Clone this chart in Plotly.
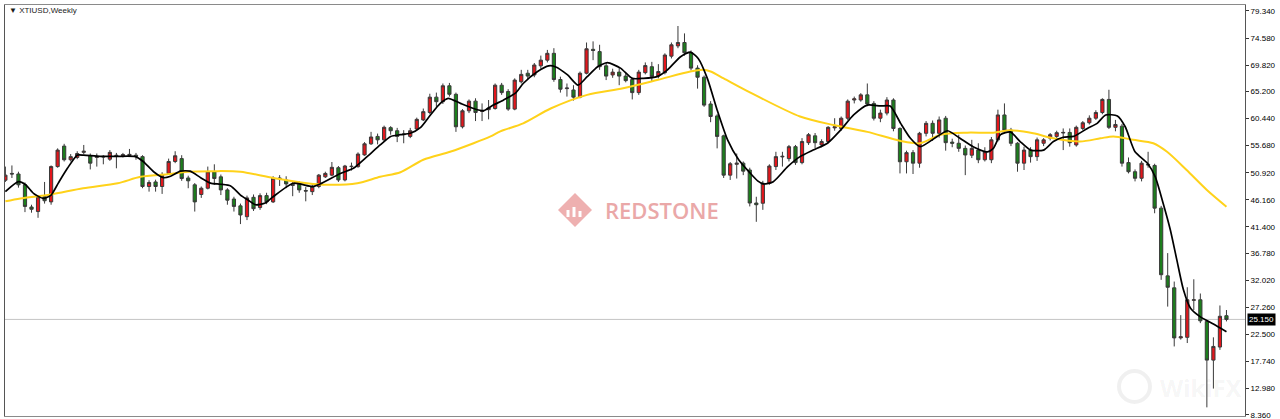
import plotly.graph_objects as go

# ---------------- data ----------------
opens = [49.6, 50.8, 50.7, 48.8, 44.9, 44.1, 46.7, 45.8, 52.0, 55.6,
         53.2, 53.6, 54.5, 53.9, 53.6, 53.8, 53.3, 54.0, 53.9, 53.95,
         54.0, 53.75, 48.5, 49.3, 48.5, 50.8, 52.9, 53.4, 50.0, 48.8,
         47.1, 48.2, 51.1, 50.2, 47.9, 46.3, 45.1, 43.2, 46.6, 44.8,
         46.9, 45.8, 50.0, 49.65, 48.9, 48.9, 47.8, 47.6, 48.5, 50.2,
         50.5, 51.8, 49.65, 52.0, 51.99, 54.05, 56.0, 57.3, 56.7, 58.84,
         58.3, 57.6, 57.3, 58.6, 60.2, 61.5, 64.2, 63.4, 66.2, 64.7,
         59.0, 61.8, 63.5, 61.7, 62.0, 62.2, 66.3, 65.2, 62.1, 66.9,
         68.4, 68.1, 69.7, 70.7, 71.9, 67.3, 65.7, 65.46, 64.2, 68.4,
         72.6, 72.2, 69.7, 68.1, 68.6, 67.9, 67.3, 65.0, 68.5, 69.55,
         67.9, 68.5, 71.4, 73.2, 73.8, 72.0, 69.3, 67.7, 63.0, 60.9,
         57.4, 50.5, 52.4, 52.6, 51.4, 45.6, 45.56, 49.07, 52.0, 53.7,
         53.4, 55.5, 52.7, 56.2, 57.4, 55.8, 56.4, 58.8, 58.7, 60.5,
         63.7, 63.7, 64.6, 63.1, 60.5, 61.4, 63.7, 58.7, 52.85, 54.45,
         52.6, 57.85, 59.6, 57.85, 60.5, 56.3, 56.1, 55.2, 54.0, 54.9,
         53.2, 53.2, 56.7, 61.07, 58.4, 56.1, 52.6, 54.9, 53.75, 56.1,
         57.0, 57.3, 57.9, 58.0, 55.8, 58.7, 59.7, 60.5, 61.5, 63.8,
         58.9, 59.1, 52.7, 51.1, 49.95, 52.4, 52.2, 44.7, 32.8, 30.7,
         21.9, 22.0, 28.5, 28.6, 24.8, 18.0, 20.3, 25.8]
highs = [52.0, 52.2, 51.1, 49.2, 45.3, 47.0, 49.3, 52.2, 55.2, 56.0,
         54.2, 54.7, 55.8, 54.3, 54.3, 54.0, 54.9, 54.4, 54.4, 55.1,
         54.4, 54.0, 49.6, 49.7, 51.0, 53.4, 54.7, 54.0, 50.4, 49.1,
         48.5, 52.0, 52.4, 50.6, 48.2, 46.7, 45.5, 46.9, 47.1, 47.3,
         47.4, 50.3, 50.5, 50.3, 49.4, 49.4, 48.4, 49.0, 50.7, 51.1,
         52.8, 52.1, 52.3, 52.7, 54.5, 56.3, 58.1, 57.8, 59.2, 59.1,
         58.8, 58.4, 58.8, 60.6, 62.2, 64.8, 65.0, 66.6, 66.7, 65.0,
         62.1, 63.8, 64.0, 63.1, 63.7, 66.6, 66.7, 65.6, 67.5, 69.0,
         69.0, 70.2, 71.5, 72.5, 72.8, 67.8, 66.6, 66.3, 68.7, 73.8,
         74.0, 73.4, 70.2, 69.2, 69.3, 68.4, 67.6, 69.0, 70.3, 70.4,
         70.0, 71.9, 73.8, 76.7, 75.4, 72.4, 69.8, 68.0, 63.5, 61.2,
         57.6, 52.8, 54.3, 52.9, 51.8, 46.7, 49.5, 52.4, 54.6, 54.6,
         55.8, 55.8, 57.0, 57.9, 57.9, 56.8, 59.1, 60.5, 60.8, 63.8,
         64.3, 64.9, 66.6, 63.5, 62.0, 64.2, 64.0, 58.9, 54.8, 54.9,
         58.1, 60.0, 60.1, 60.8, 60.9, 56.9, 57.6, 55.7, 56.7, 56.1,
         55.4, 57.2, 62.0, 63.1, 58.8, 56.3, 55.5, 55.4, 57.1, 57.0,
         57.9, 58.3, 58.7, 58.7, 59.2, 60.0, 61.0, 61.9, 64.0, 65.5,
         60.2, 59.5, 53.6, 51.5, 53.0, 54.6, 52.5, 45.1, 36.8, 31.8,
         25.9, 30.8, 32.2, 29.7, 25.0, 22.0, 27.6, 26.8]
lows = [49.3, 50.0, 48.3, 44.0, 43.9, 43.0, 45.5, 45.3, 51.8, 52.9,
        52.9, 53.3, 54.2, 51.5, 52.0, 52.4, 53.0, 51.7, 53.6, 53.7,
        53.2, 48.2, 47.6, 47.6, 47.2, 50.6, 52.6, 49.5, 48.2, 44.1,
        46.5, 48.0, 48.8, 47.0, 45.3, 44.1, 41.9, 42.6, 44.2, 44.4,
        45.4, 45.6, 48.6, 48.2, 46.8, 47.4, 45.9, 47.0, 48.2, 50.0,
        50.3, 49.3, 49.4, 51.3, 51.8, 53.9, 55.8, 55.9, 56.4, 57.6,
        56.3, 56.1, 57.0, 58.4, 60.0, 61.2, 62.5, 63.0, 64.3, 58.1,
        58.7, 61.4, 60.0, 60.0, 60.3, 62.0, 64.6, 61.8, 61.9, 66.6,
        67.3, 67.7, 69.2, 70.3, 66.9, 65.0, 64.3, 63.6, 64.0, 68.2,
        70.7, 69.0, 67.2, 67.6, 66.3, 66.8, 63.8, 64.6, 68.2, 66.9,
        67.5, 68.2, 71.0, 72.8, 71.5, 68.9, 65.7, 62.5, 59.8, 55.2,
        50.0, 49.65, 49.9, 50.5, 45.0, 42.3, 44.4, 48.8, 51.4, 52.0,
        52.9, 52.3, 52.4, 55.8, 55.2, 55.4, 56.1, 58.3, 58.3, 60.2,
        63.1, 63.4, 62.6, 60.1, 59.8, 61.0, 58.2, 50.8, 50.8, 50.7,
        51.8, 57.3, 56.5, 57.1, 54.8, 55.4, 54.6, 50.5, 53.5, 52.6,
        52.9, 52.6, 56.4, 58.0, 55.6, 51.1, 51.4, 52.7, 53.0, 55.6,
        56.6, 56.9, 54.9, 55.5, 55.5, 58.4, 59.4, 60.2, 61.2, 58.6,
        58.2, 52.0, 50.8, 49.4, 49.4, 51.8, 43.8, 32.1, 27.4, 20.4,
        21.6, 21.0, 26.8, 24.5, 9.7, 13.0, 19.8, 24.8]
closes = [50.5, 50.7, 48.8, 45.0, 44.5, 46.7, 46.0, 52.0, 54.9, 53.2,
          53.75, 54.3, 54.7, 52.6, 53.8, 53.7, 54.5, 53.9, 54.1, 54.15,
          53.8, 48.5, 49.2, 48.5, 50.5, 52.9, 53.9, 49.9, 49.5, 45.8,
          48.2, 51.1, 49.9, 47.9, 46.1, 45.0, 43.5, 46.5, 44.6, 46.9,
          45.8, 49.95, 49.9, 48.95, 48.7, 47.9, 47.7, 48.5, 50.5, 50.8,
          51.87, 49.65, 52.1, 52.05, 54.2, 56.0, 57.2, 56.7, 58.9, 58.3,
          57.3, 57.7, 58.3, 60.3, 61.65, 64.2, 63.4, 66.2, 64.7, 59.0,
          61.8, 63.5, 61.5, 61.9, 62.3, 66.3, 65.0, 62.1, 67.2, 68.2,
          67.9, 69.85, 70.7, 71.9, 67.3, 65.6, 65.8, 64.2, 68.4, 72.7,
          72.4, 69.55, 67.9, 68.6, 67.9, 67.1, 65.0, 68.6, 69.75, 67.8,
          68.7, 71.6, 73.4, 73.8, 72.0, 69.3, 67.7, 62.8, 60.8, 57.3,
          50.5, 52.5, 52.6, 51.2, 45.6, 45.3, 49.07, 52.1, 53.75, 53.8,
          55.5, 52.7, 56.4, 57.6, 56.2, 56.4, 58.9, 59.0, 60.5, 63.5,
          63.9, 64.6, 63.0, 60.5, 61.4, 63.7, 58.7, 52.85, 54.45, 52.6,
          57.85, 59.6, 57.85, 60.2, 56.2, 56.1, 55.2, 54.04, 55.2, 53.2,
          54.6, 56.7, 61.07, 58.4, 56.1, 52.6, 54.9, 53.75, 56.7, 56.7,
          57.6, 57.96, 58.0, 56.2, 58.9, 59.7, 60.5, 61.5, 63.8, 58.9,
          59.4, 52.6, 51.1, 49.95, 52.6, 52.3, 44.7, 33.0, 30.8, 21.9,
          22.1, 28.6, 28.6, 24.9, 18.0, 20.4, 25.7, 25.15]

# fast moving average (black), read at candle positions
ma_fast_x = [0, 2, 3.1, 4.3, 5.8, 7, 8.1, 9.5, 11, 12, 14.5, 17, 19.9, 21.1,
             22.7, 24.2, 25.3, 26.8, 28.3, 29.9, 31.4, 32.9, 34.5, 36, 37.2,
             38.3, 39.8, 41, 44.1, 47, 48.2, 51.3, 53.3, 55.4, 57.4, 59, 60.5,
             62, 63.6, 65.1, 66.6, 67.8, 69.7, 71.7, 73.2, 74.7, 76.3, 78.1,
             79.3, 81.5, 83.2, 84.2, 86.1, 87.7, 89.1, 90.7, 92.2, 94.2, 96,
             97.7, 99.8, 101.4, 103.4, 104.9, 106.1, 107.5, 109, 110.6, 112.3,
             114.1, 115.2, 116.1, 117.6, 119.8, 121.7, 123.7, 125.9, 127.9,
             129.9, 132, 134, 135.5, 137.1, 138.6, 140.1, 142.7, 144.3, 146.2,
             148.2, 150.4, 151.3, 152.4, 153.9, 155.4, 157, 159, 160.5, 162,
             163.6, 165.7, 167.2, 168.5, 170.3, 171.5, 173, 174.9, 176.1,
             177.3, 178.4, 179.4, 180.4, 181.5, 183, 185, 187]
ma_fast_y = [47.6, 49.35, 48.8, 47.3, 46.4, 47.0, 49.1, 51.7, 54.0, 54.0, 53.8,
             53.8, 53.75, 52.9, 51.1, 50.05, 50.3, 51.2, 51.2, 50.05, 49.1,
             48.9, 48.6, 47.0, 46.1, 45.3, 45.6, 46.7, 49.07, 48.5, 48.95,
             50.8, 51.7, 53.75, 55.8, 57.3, 57.6, 57.85, 58.9, 61.07, 63.1,
             64.0, 63.1, 62.2, 61.8, 62.8, 63.7, 64.9, 66.6, 68.7, 69.7, 69.55,
             68.1, 66.3, 67.8, 69.55, 70.25, 69.3, 67.5, 67.5, 67.8, 69.0,
             71.3, 72.1, 71.0, 67.5, 61.95, 56.7, 53.2, 50.8, 49.5, 48.95,
             49.35, 51.99, 53.75, 54.9, 56.1, 58.4, 61.07, 62.8, 62.65, 62.65,
             59.6, 56.97, 55.5, 57.3, 58.3, 56.97, 55.5, 54.6, 55.2, 57.6,
             58.1, 56.4, 54.9, 54.9, 56.4, 57.15, 57.3, 58.7, 59.6, 61.07,
             60.9, 59.0, 54.6, 52.6, 50.2, 45.56, 40.9, 35.6, 30.4, 27.1,
             25.6, 24.35, 23.0]

# slow moving average (yellow), read at candle positions
ma_slow_x = [0, 2.3, 6.9, 11.9, 17.2, 20.7, 24.8, 27.9, 31.9, 36, 41, 46.2,
             49.3, 53.9, 57.4, 60.5, 64, 68.1, 71.7, 74.3, 75.8, 79.3, 83.5,
             89.1, 94.6, 99.8, 104.9, 106.9, 108, 110, 114.1, 121.7, 126.8,
             132, 137.1, 140.1, 143.2, 147.3, 151.3, 153.9, 157.4, 160.5,
             164.6, 167.7, 169.7, 172.7, 175.8, 177.9, 180.9, 184, 187]
ma_slow_y = [45.9, 46.4, 47.1, 48.2, 49.07, 50.2, 50.65, 51.1, 51.2, 51.1,
             50.0, 49.07, 48.8, 49.07, 50.2, 51.0, 53.2, 54.6, 56.1, 57.3,
             58.2, 59.6, 62.2, 64.6, 65.75, 67.2, 68.7, 69.0, 68.7, 67.5,
             65.0, 60.8, 59.3, 58.1, 56.5, 56.1, 57.6, 57.96, 57.96, 58.4,
             57.85, 56.97, 56.4, 56.97, 57.3, 56.7, 56.1, 54.6, 51.4, 47.9,
             44.96]

last_price = 25.15
tick_vals = [79.34, 74.58, 69.82, 65.20, 60.44, 55.68, 50.92, 46.16,
             41.40, 36.78, 32.02, 27.26, 22.50, 17.74, 12.98, 8.36]
tick_text = ["79.340", "74.580", "69.820", "65.200", "60.440", "55.680",
             "50.920", "46.160", "41.400", "36.780", "32.020", "27.260",
             "22.500", "17.740", "12.980", "8.360"]
chart_title = "XTIUSD,Weekly"

# ---------------- layout geometry ----------------
W, H = 1280, 419
ML, MR, MT, MB = 5, 35, 5, 3
PW, PH = W - ML - MR, H - MT - MB


def px(xp):
    return (xp - ML) / PW


def py(yp):
    return (H - MB - yp) / PH


idx = list(range(len(opens)))

fig = go.Figure()
fig.add_trace(go.Candlestick(
    x=idx, open=opens, high=highs, low=lows, close=closes,
    increasing=dict(fillcolor="#e3161c", line=dict(color="#3a3a3a", width=1)),
    decreasing=dict(fillcolor="#1c7f1c", line=dict(color="#3a3a3a", width=1)),
    whiskerwidth=0, showlegend=False, hoverinfo="skip"))
fig.add_trace(go.Scatter(
    x=ma_slow_x, y=ma_slow_y, mode="lines", showlegend=False, hoverinfo="skip",
    line=dict(color="#ffd21a", width=2, shape="spline", smoothing=0.8)))
fig.add_trace(go.Scatter(
    x=ma_fast_x, y=ma_fast_y, mode="lines", showlegend=False, hoverinfo="skip",
    line=dict(color="#000000", width=1.7, shape="spline", smoothing=0.6)))

shapes = [
    dict(type="line", xref="paper", yref="y", x0=0, x1=1, y0=last_price,
         y1=last_price, line=dict(color="#c4c4c4", width=1), layer="below"),
]
# REDSTONE diamond logo
cx, cy, r = 575, 210, 17
shapes.append(dict(
    type="path", xref="paper", yref="paper", layer="below",
    path="M {} {} L {} {} L {} {} L {} {} Z".format(
        px(cx - r), py(cy), px(cx), py(cy - r), px(cx + r), py(cy), px(cx), py(cy + r)),
    fillcolor="#eeb0b0", line=dict(width=0)))
for bx, bh in [(-7, 7), (-1, 10), (5, 6)]:
    shapes.append(dict(
        type="rect", xref="paper", yref="paper", layer="below",
        x0=px(cx + bx - 1.5), x1=px(cx + bx + 1.5), y0=py(cy + 7), y1=py(cy + 7 - bh),
        fillcolor="white", line=dict(width=0)))
# WikiFX faint logo circle
shapes.append(dict(type="circle", xref="paper", yref="paper", layer="below",
                   x0=px(1119), x1=px(1150), y0=py(402), y1=py(371),
                   line=dict(color="rgba(0,0,0,0.06)", width=4)))

annotations = [
    dict(xref="paper", yref="paper", x=px(7), y=py(11), xanchor="left", yanchor="middle",
         text="▼ " + chart_title, showarrow=False,
         font=dict(family="Liberation Sans", size=8, color="#1a1a1a")),
    dict(xref="paper", yref="y", x=1, y=last_price, xanchor="left", yanchor="middle",
         xshift=2, text="25.150", showarrow=False, bgcolor="#000000", borderpad=1,
         font=dict(family="Liberation Sans", size=8, color="#ffffff")),
    dict(xref="paper", yref="paper", x=px(662), y=py(210), xanchor="center", yanchor="middle",
         text="REDSTONE", showarrow=False,
         font=dict(family="Open Sans", size=22, color="#eaa8a8", weight=600)),
    dict(xref="paper", yref="paper", x=px(1158), y=py(387), xanchor="left", yanchor="middle",
         text="<b>WikiFX</b>", showarrow=False,
         font=dict(family="Noto Sans", size=24, color="rgba(0,0,0,0.05)")),
]

fig.update_layout(
    width=W, height=H, margin=dict(l=ML, r=MR, t=MT, b=MB, autoexpand=False),
    paper_bgcolor="white", plot_bgcolor="white",
    shapes=shapes, annotations=annotations,
    xaxis=dict(range=[-0.06, 189.84], showticklabels=False, showgrid=False,
               zeroline=False, showline=True, mirror=True, linecolor="#8a8a8a",
               linewidth=1, ticks="", rangeslider=dict(visible=False), fixedrange=True,
               automargin=False),
    yaxis=dict(side="right", range=[8.18, 80.39], tickvals=tick_vals, ticktext=tick_text,
               ticks="outside", ticklen=3, tickcolor="#333", showgrid=False,
               zeroline=False, showline=True, mirror=True, linecolor="#555555",
               linewidth=1, tickfont=dict(family="Liberation Sans", size=8, color="#000"),
               ticklabeloverflow="allow", fixedrange=True, automargin=False),
)

fig.write_html(
    "out.html",
    config={"displayModeBar": False},
    post_script="document.body.style.margin='0px';document.body.style.overflow='hidden';",
)
